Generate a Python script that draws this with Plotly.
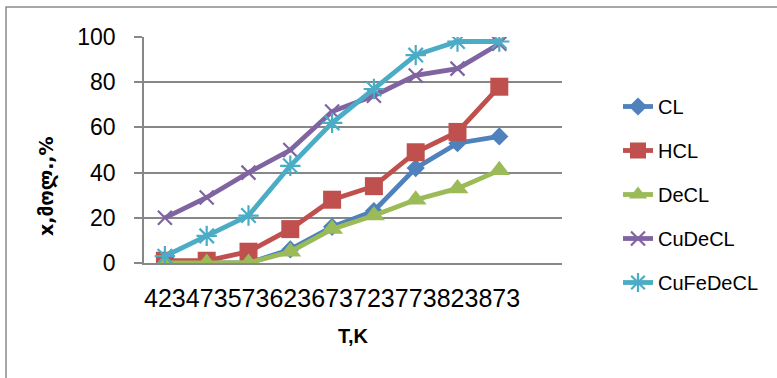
import plotly.graph_objects as go

# Temperature categories (K) and conversion values (%) for each catalyst
temps = ["423", "473", "573", "623", "673", "723", "773", "823", "873"]
cl = [0, 0, 0, 6, 16, 23, 42, 53, 56]
hcl = [1, 1, 5, 15, 28, 34, 49, 58, 78]
decl = [0, 0, 0, 5, 15, 21, 28, 33, 41]
cudecl = [20, 29, 40, 50, 67, 74, 83, 86, 97]
cufedecl = [3, 12, 21, 43, 62, 77, 92, 98, 98]
y_ticks = [0, 20, 40, 60, 80, 100]

series = [
    ("CL", cl, "#4F81BD", dict(symbol="diamond", size=14)),
    ("HCL", hcl, "#C0504D", dict(symbol="square", size=18)),
    ("DeCL", decl, "#9BBB59", dict(symbol="triangle-up", size=19)),
    ("CuDeCL", cudecl, "#8064A2", dict(symbol="x-thin-open", size=14, line=dict(width=2.2))),
    ("CuFeDeCL", cufedecl, "#4BACC6", dict(symbol="asterisk-open", size=17, line=dict(width=2.2))),
]

fig = go.Figure()
for name, vals, color, mk in series:
    marker = dict(color=color, **mk)
    if "line" in marker:
        marker["line"] = dict(color=color, **marker["line"])
    fig.add_trace(go.Scatter(
        x=temps, y=vals, name=name, mode="lines+markers",
        line=dict(color=color, width=4.8),
        marker=marker, legendgroup=name,
    ))

grid = "#878787"
W, H = 777, 378
L, R, T, B = 144, 215, 37, 115
pw, ph = W - L - R, H - T - B


def px_x(p):
    return (p - L) / pw


def px_y(p):
    return (H - B - p) / ph


fig.update_layout(
    width=W, height=H,
    margin=dict(l=L, r=R, t=T, b=B, pad=0),
    paper_bgcolor="white", plot_bgcolor="white",
    font=dict(family="Liberation Sans, Arial, sans-serif", color="#000000"),
    showlegend=True,
    legend=dict(
        x=px_x(618), y=px_y(87), xanchor="left", yanchor="top",
        font=dict(size=20, color="#000000"),
        tracegroupgap=15, itemwidth=30,
        bgcolor="rgba(0,0,0,0)",
    ),
    xaxis=dict(
        type="category", categoryorder="array", categoryarray=temps,
        range=[-0.5, 9.5], showgrid=False, zeroline=False,
        showline=True, linecolor=grid, linewidth=1.5,
        ticks="", tickangle=0, tickmode="array", tickvals=temps, ticktext=temps,
        tickfont=dict(size=25), ticklabelstandoff=12,
    ),
    yaxis=dict(
        range=[0, 100], tickmode="array", tickvals=y_ticks,
        showgrid=True, gridcolor=grid, gridwidth=1.5,
        zeroline=False, showline=True, linecolor=grid, linewidth=1.5,
        ticks="outside", ticklen=8, tickcolor=grid, tickwidth=1.5,
        tickfont=dict(size=23), ticklabelstandoff=14,
    ),
    shapes=[dict(
        type="rect", xref="paper", yref="paper",
        x0=px_x(6), x1=px_x(800), y0=px_y(420), y1=px_y(7),
        line=dict(color="#8a8a8a", width=1.5), fillcolor="rgba(0,0,0,0)",
        layer="below",
    )],
    annotations=[
        dict(text="<b>T,K</b>", xref="paper", yref="paper",
             x=0.5, y=px_y(336), xanchor="center", yanchor="middle",
             showarrow=False, font=dict(size=20)),
        dict(text="<b>x,მოლ.,%</b>", xref="paper", yref="paper",
             x=px_x(46), y=px_y(186), xanchor="center", yanchor="middle",
             textangle=-90, showarrow=False,
             font=dict(size=19, family="DejaVu Sans, Liberation Sans, sans-serif")),
    ],
)

fig.write_html("out.html")
